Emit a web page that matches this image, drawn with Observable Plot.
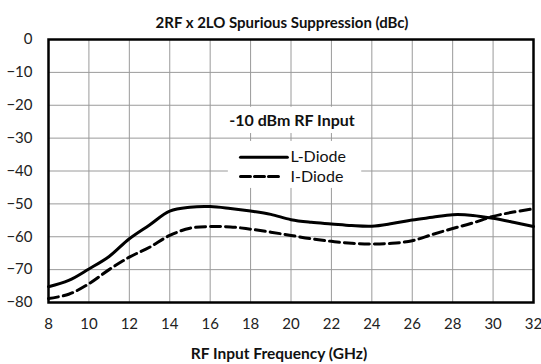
<!DOCTYPE html>
<html>
<head>
<meta charset="utf-8">
<script src="https://cdn.jsdelivr.net/npm/d3@7"></script>
<script src="https://cdn.jsdelivr.net/npm/@observablehq/plot@0.6"></script>
<style>
  html, body { margin: 0; padding: 0; background: #fff; }
  #chart svg { display: block; }
</style>
</head>
<body>
<div id="chart"></div>
<script>
// RF input frequency (GHz)
const freq = [8, 9, 10, 11, 12, 13, 14, 15, 16, 17, 18, 19, 20, 21, 22, 23, 24, 25, 26, 27, 28, 29, 30, 31, 32];
// 2RF x 2LO spurious suppression (dBc) at -10 dBm RF input
const lDiode = [-75.2, -73.3, -69.8, -66.0, -60.6, -56.4, -52.2, -51.0, -50.8, -51.4, -52.2, -53.2, -54.8, -55.6, -56.1, -56.6, -56.8, -56.0, -54.9, -54.1, -53.3, -53.5, -54.4, -55.6, -56.9];
const iDiode = [-78.8, -77.5, -74.3, -70.0, -66.2, -63.2, -59.6, -57.4, -56.9, -57.0, -57.7, -58.6, -59.6, -60.6, -61.4, -62.0, -62.2, -62.0, -61.2, -59.3, -57.5, -55.8, -53.8, -52.5, -51.5];
const xTicks = d3.range(8, 33, 2);
const yTicks = d3.range(-80, 1, 10);
const seriesNames = ["L-Diode", "I-Diode"];

const lRows = freq.map((f, i) => ({f, v: lDiode[i]}));
const iRows = freq.map((f, i) => ({f, v: iDiode[i]}));

const font = "Lato, 'Open Sans', sans-serif";
const dash = "10,5";

const chart = Plot.plot({
  width: 541,
  height: 364,
  marginLeft: 48,
  marginRight: 8,
  marginTop: 39,
  marginBottom: 62,
  style: {fontFamily: font, fontSize: "15px", color: "#222", background: "#fff"},
  x: {domain: [8, 32], tickSize: 0, label: null},
  y: {domain: [-80, 0], tickSize: 0, label: null},
  marks: [
    Plot.gridX(xTicks, {stroke: "#9a9a9a", strokeOpacity: 1, strokeWidth: 1}),
    Plot.gridY(yTicks, {stroke: "#9a9a9a", strokeOpacity: 1, strokeWidth: 1}),
    // white panels behind the annotation and the legend
    Plot.rect([0], {x1: () => 16.3, x2: () => 23.7, y1: () => -20.6, y2: () => -28.6, fill: "#fff"}),
    Plot.rect([0], {x1: () => 16.9, x2: () => 23.5, y1: () => -31.0, y2: () => -45.3, fill: "#fff"}),
    Plot.text(["-10 dBm RF Input"], {x: () => 20.05, y: () => -24.8, fontWeight: "bold", fontSize: 16, fill: "#111"}),
    // legend swatches
    Plot.line([[17.5, -35.8], [19.82, -35.8]], {stroke: "#000", strokeWidth: 3}),
    Plot.line([[17.5, -41.7], [19.4, -41.7]], {stroke: "#000", strokeWidth: 3, strokeDasharray: "10,4"}),
    Plot.text(seriesNames, {x: () => 19.98, y: (d, i) => [-35.8, -41.7][i], textAnchor: "start", fontSize: 16, fill: "#111"}),
    // curves
    Plot.line(lRows, {x: "f", y: "v", curve: "catmull-rom", stroke: "#000", strokeWidth: 3}),
    Plot.line(iRows, {x: "f", y: "v", curve: "catmull-rom", stroke: "#000", strokeWidth: 3, strokeDasharray: dash}),
    Plot.frame({stroke: "#000", strokeWidth: 2.5}),
    Plot.axisX(xTicks, {tickSize: 0, tickPadding: 16, fontSize: 15, fill: "#222"}),
    Plot.axisY(yTicks, {tickSize: 0, tickPadding: 16, fontSize: 15, fill: "#222"}),
    Plot.text(["2RF x 2LO Spurious Suppression (dBc)"], {frameAnchor: "top", dy: -22, dx: -9, fontWeight: "bold", fontSize: 15, fill: "#111"}),
    Plot.text(["RF Input Frequency (GHz)"], {frameAnchor: "bottom", dy: 56, dx: -12, fontWeight: "bold", fontSize: 15.5, fill: "#111"})
  ]
});

document.getElementById("chart").append(chart);
</script>
</body>
</html>
